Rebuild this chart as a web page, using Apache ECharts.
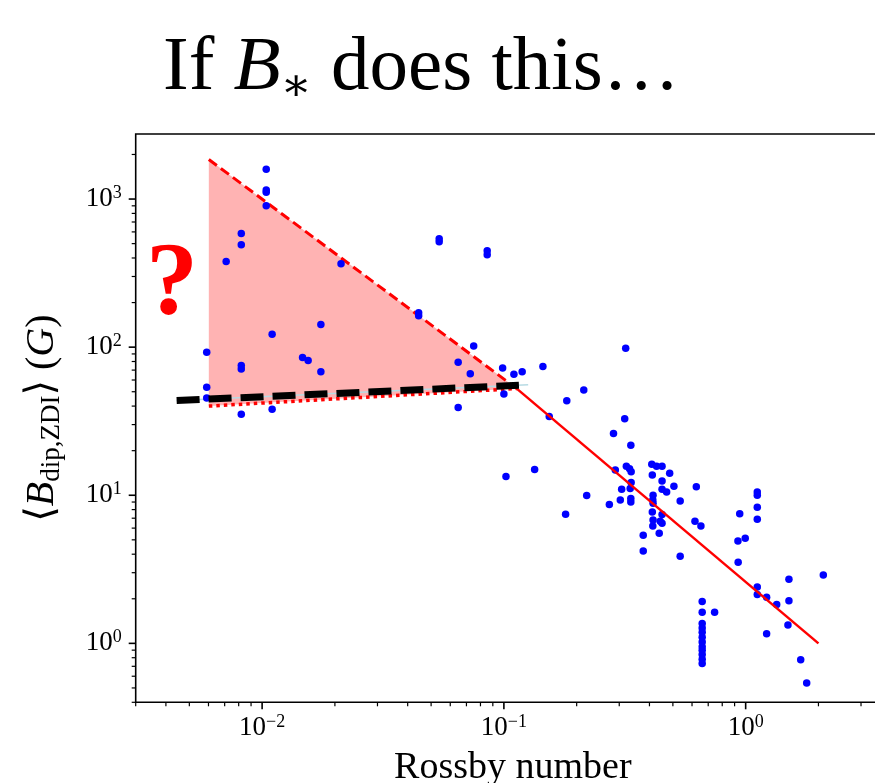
<!DOCTYPE html>
<html>
<head>
<meta charset="utf-8">
<script src="https://cdn.jsdelivr.net/npm/echarts@6/dist/echarts.min.js"></script>
<style>
  html, body { margin: 0; padding: 0; background: #fff; }
  #chart { width: 875px; height: 783px; }
</style>
</head>
<body>
<div id="chart"></div>
<script>
// 数据：Rossby number 与 <B_dip,ZDI>
const rossby = [
  0.0104, 0.0104, 0.0104, 0.0104, 0.0082, 0.0082, 0.0071, 0.0212, 0.0540, 0.0540,
  0.0853, 0.0853, 0.0444, 0.0444, 0.0059, 0.0110, 0.0175, 0.0082, 0.0082, 0.0147,
  0.0155, 0.0175, 0.0647, 0.0750, 0.0726, 0.0988, 0.110, 0.119, 0.145, 0.0059,
  0.0059, 0.0082, 0.0110, 0.0647, 0.100, 0.154,
  0.319, 0.214, 0.182, 0.316, 0.284, 0.335, 0.102, 0.134, 0.289, 0.321,
  0.331, 0.336, 0.336, 0.333, 0.307, 0.220, 0.303, 0.335, 0.335, 0.273, 0.180,
  0.409, 0.428, 0.451, 0.485, 0.411, 0.451, 0.505, 0.451, 0.471, 0.414,
  0.413, 0.414, 0.536, 0.625, 0.411, 0.451, 0.451, 0.414, 0.413, 0.443,
  0.377, 0.439, 0.377, 0.536, 0.617, 0.653, 0.945, 1.117, 1.117, 1.117,
  1.117, 0.929, 0.996, 0.931,
  0.661, 0.661, 0.661, 0.661, 0.661, 0.661, 0.661, 0.661, 0.661, 0.661, 0.661, 0.661,
  0.744, 1.117, 1.117, 1.221, 1.344, 1.510, 1.510, 1.496, 1.221, 2.095, 1.689, 1.788
];
const bdip = [
  1589, 1150, 1110, 901, 586, 491, 379, 366, 540, 515,
  448, 421, 171, 163, 92.5, 122, 142, 75.2, 71.3, 85.1,
  81.2, 68.1, 79.2, 102, 66.1, 72.4, 65.5, 68.1, 74.1, 53.7,
  45.4, 35.2, 38.1, 39.2, 48.3, 34.0,
  98.4, 51.4, 43.4, 32.8, 26.1, 21.8, 13.4, 14.9, 14.8, 15.7,
  15.1, 14.4, 12.2, 11.1, 11.0, 9.95, 9.29, 9.50, 9.02, 8.65, 7.45,
  16.2, 15.7, 15.7, 14.1, 13.7, 12.5, 11.5, 11.0, 10.5, 10.0,
  9.30, 8.84, 9.15, 11.4, 7.71, 7.41, 6.48, 6.81, 6.20, 6.67,
  5.37, 5.54, 4.20, 3.87, 6.67, 6.20, 7.50, 10.5, 10.0, 8.30,
  6.88, 4.91, 5.12, 3.53,
  1.92, 1.62, 1.36, 1.27, 1.19, 1.10, 1.02, 0.95, 0.90, 0.84, 0.78, 0.73,
  1.62, 2.40, 2.14, 2.05, 1.83, 2.71, 1.94, 1.33, 1.16, 2.89, 0.775, 0.539
];

// 各条线
const upperX = [0.00602, 0.113], upperY = [1850, 52.5];   // 红色虚线（上界）
const lowerX = [0.00602, 0.113], lowerY = [40.0, 52.5];   // 红色点线（下界）
const fitX = [0.113, 2.0], fitY = [52.5, 1.0];            // 红色实线
const flatX = [0.00443, 0.1154], flatY = [43.6, 55.3];     // 黑色粗虚线
const barX = [0.00443, 0.126], barY = [43.6, 55.7];        // 浅蓝细线

// 坐标轴范围
const X_MIN = 0.003, X_MAX = Math.pow(10, 0.597);
const Y_MIN = 0.4, Y_MAX = Math.pow(10, 3.4392);

const SERIF = '"Liberation Serif", "DejaVu Serif", serif';

function zip(xs, ys) { return xs.map((x, i) => [x, ys[i]]); }

// 10^n 标签
function powLabel(v) {
  const e = Math.log10(v);
  const r = Math.round(e);
  if (Math.abs(e - r) > 1e-6) return '';
  return '{b|10}{s|' + (r < 0 ? '\u2212' + (-r) : String(r)) + '}';
}
const labelRich = {
  b: { fontSize: 27, lineHeight: 30, fontFamily: SERIF, color: '#000' },
  s: { fontSize: 18, lineHeight: 14, verticalAlign: 'top', fontFamily: SERIF, color: '#000' }
};

// 刻度（主刻度 + 次刻度）
function logTicks(lo, hi) {
  const out = [];
  for (let e = -4; e <= 4; e++) {
    for (let m = 1; m <= 9; m++) {
      const v = m * Math.pow(10, e);
      if (v >= lo * 0.999 && v <= hi) out.push([v, m === 1 ? 1 : 0]);
    }
  }
  return out;
}
const xTicks = logTicks(X_MIN, X_MAX);
const yTicks = logTicks(Y_MIN, Y_MAX);

const chart = echarts.init(document.getElementById('chart'));
const option = {
  animation: false,
  backgroundColor: '#fff',
  grid: {
    left: 135.7, top: 134, width: 754.3, height: 568.3,
    outerBoundsMode: 'none', containLabel: false,
    show: true, borderColor: '#000', borderWidth: 1.6, backgroundColor: 'transparent'
  },
  xAxis: {
    type: 'log', logBase: 10, min: X_MIN, max: X_MAX,
    axisLine: { show: false },
    axisTick: { show: false },
    splitLine: { show: false },
    axisLabel: { formatter: powLabel, rich: labelRich, margin: 11 },
    name: 'Rossby number',
    nameLocation: 'middle',
    nameGap: 47,
    nameTextStyle: { fontSize: 38, fontFamily: SERIF, color: '#000' }
  },
  yAxis: {
    type: 'log', logBase: 10, min: Y_MIN, max: Y_MAX,
    axisLine: { show: false },
    axisTick: { show: false },
    splitLine: { show: false },
    axisLabel: { formatter: powLabel, rich: labelRich, margin: 14 },
    name: '{n|\u27E8}{i|B}{sub|dip,ZDI}{n|\u27E9 (}{i|G}{n|)}',
    nameLocation: 'middle',
    nameRotate: 90,
    nameGap: 70,
    nameTextStyle: {
      color: '#000',
      rich: {
        n: { fontSize: 40, lineHeight: 46, fontFamily: SERIF, color: '#000' },
        i: { fontSize: 40, lineHeight: 46, fontFamily: SERIF, fontStyle: 'italic', color: '#000' },
        sub: { fontSize: 27, lineHeight: 27, verticalAlign: 'bottom', fontFamily: SERIF, color: '#000' }
      }
    }
  },
  graphic: [
    {
      type: 'text', left: 163, top: 30,
      style: {
        text: '{r|If }{i|B}{sub|\u2217}{r| does this\u2026}',
        rich: {
          r: { fontSize: 77, lineHeight: 85, fontFamily: SERIF, fill: '#000' },
          i: { fontSize: 77, lineHeight: 85, fontFamily: SERIF, fontStyle: 'italic', fill: '#000' },
          sub: { fontSize: 46, lineHeight: 40, verticalAlign: 'bottom', fontFamily: '"DejaVu Serif", serif', fill: '#000' }
        }
      }
    },
    {
      type: 'text', x: 172, y: 287,
      style: {
        text: '?', fontSize: 104, fontWeight: 'bold', fontFamily: SERIF,
        fill: '#ff0000', align: 'center', verticalAlign: 'middle'
      }
    }
  ],
  series: [
    {
      // 粉色三角区域
      type: 'custom', silent: true, z: 1,
      data: [[upperX[0], upperY[0]]],
      renderItem: function (params, api) {
        const pts = [
          api.coord([upperX[0], upperY[0]]),
          api.coord([upperX[1], upperY[1]]),
          api.coord([lowerX[0], lowerY[0]])
        ];
        return { type: 'polygon', shape: { points: pts }, style: { fill: '#ffb3b3' } };
      }
    },
    {
      type: 'line', data: zip(upperX, upperY), showSymbol: false, silent: true, z: 2,
      lineStyle: { color: '#ff0000', width: 3, type: [10, 5] }
    },
    {
      type: 'line', data: zip(lowerX, lowerY), showSymbol: false, silent: true, z: 2,
      lineStyle: { color: '#ff0000', width: 3.5, type: [3.5, 4] }
    },
    {
      type: 'line', data: zip(barX, barY), showSymbol: false, silent: true, z: 2,
      lineStyle: { color: '#b7dbe4', width: 1.5 }
    },
    {
      type: 'scatter', data: zip(rossby, bdip), symbolSize: 7.5, z: 3,
      itemStyle: { color: '#0000ff', opacity: 1 }
    },
    {
      type: 'line', data: zip(fitX, fitY), showSymbol: false, silent: true, z: 4,
      lineStyle: { color: '#ff0000', width: 2.5 }
    },
    {
      type: 'line', data: zip(flatX, flatY), showSymbol: false, silent: true, z: 5,
      lineStyle: { color: '#000', width: 7, type: [23, 9], cap: 'butt' }
    },
    {
      // x 轴刻度
      type: 'custom', silent: true, clip: false, z: 6,
      data: xTicks.map(t => [t[0], Y_MIN, t[1]]),
      renderItem: function (params, api) {
        const p = api.coord([api.value(0), api.value(1)]);
        const len = api.value(2) ? 7 : 4;
        return { type: 'line', shape: { x1: p[0], y1: p[1], x2: p[0], y2: p[1] + len },
          style: { stroke: '#000', lineWidth: api.value(2) ? 1.6 : 1.2 } };
      }
    },
    {
      // y 轴刻度
      type: 'custom', silent: true, clip: false, z: 6,
      data: yTicks.map(t => [X_MIN, t[0], t[1]]),
      renderItem: function (params, api) {
        const p = api.coord([api.value(0), api.value(1)]);
        const len = api.value(2) ? 7 : 4;
        return { type: 'line', shape: { x1: p[0] - len, y1: p[1], x2: p[0], y2: p[1] },
          style: { stroke: '#000', lineWidth: api.value(2) ? 1.6 : 1.2 } };
      }
    }
  ]
};
chart.setOption(option);
</script>
</body>
</html>
